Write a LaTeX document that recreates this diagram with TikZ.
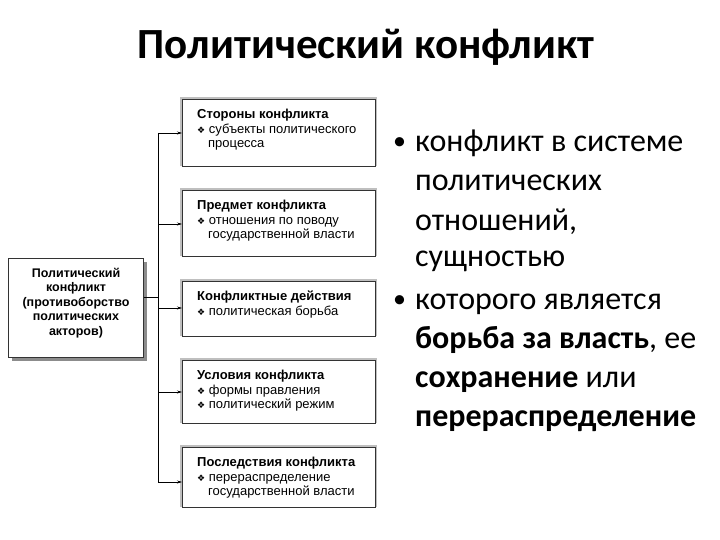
\documentclass[tikz,border=0pt]{standalone}
\usepackage{fontspec}
\setmainfont{Carlito}
\newfontfamily\arl{Liberation Sans}
\newfontfamily\dv{DejaVu Sans}
\usetikzlibrary{arrows.meta}
\begin{document}
\begin{tikzpicture}[x=1pt,y=-1pt,
  rbox/.style={draw=black!80,line width=0.8pt,fill=white,minimum width=193pt,anchor=north west,inner sep=0pt},
  arr/.style={-{Stealth[length=5pt,width=3pt]},line width=0.6pt},
  boxtxt/.style={font=\arl\fontsize{13}{14.5}\selectfont,align=left,anchor=north west,inner sep=0pt}]
\path[use as bounding box] (0,0) rectangle (720,540);
\node[font=\bfseries\fontsize{43}{47}\selectfont] (title) at (366,47) {Политический конфликт};
% left box
\fill[black!45] (12,262) rectangle (147,361);
\node[draw=black!80,line width=0.8pt,fill=white,minimum width=135pt,minimum height=99pt,anchor=north west,inner sep=0pt] (L) at (8,258) {};
\node[font=\arl\bfseries\fontsize{12.5}{14.5}\selectfont,align=center] at (76,303) {Политический\\конфликт\\(противоборство\\политических\\акторов)};
% right boxes
\newcommand\bul{{\dv\fontsize{9}{12}\selectfont ❖}}
\newcommand\rb[5]{%
 \fill[black!25] (180,#2-2) rectangle (377,#3);
 \node[rbox,minimum height=#3pt-#2pt] (#1) at (182,#2) {};
 \node[boxtxt] at (197,#2+10) {#4};
 \coordinate (#1a) at (182,#5);}
\rb{b1}{99}{166}{\textbf{Стороны конфликта}\\\bul\ субъекты политического\\\hspace*{11pt}процесса}{133}
\rb{b2}{190}{256}{\textbf{Предмет конфликта}\\\bul\ отношения по поводу\\\hspace*{11pt}государственной власти}{224}
\rb{b3}{281}{336}{\textbf{Конфликтные действия}\\\bul\ политическая борьба}{308}
\rb{b4}{360}{423}{\textbf{Условия конфликта}\\\bul\ формы правления\\\bul\ политический режим}{392}
\rb{b5}{447}{507}{\textbf{Последствия конфликта}\\\bul\ перераспределение\\\hspace*{11pt}государственной власти}{482}
\coordinate (top) at (158,133);
\coordinate (bot) at (158,482);
\coordinate (mid) at (158,297);
\draw[line width=0.6pt] (top) -- (bot);
\draw[line width=0.6pt] (L.east |- mid) -- (mid);
\foreach \b/\y in {b1/133,b2/224,b3/308,b4/392,b5/482}
  \draw[arr] (158,\y) -- (\b a);
% right text
\begin{scope}[every node/.style={anchor=base west,font=\fontsize{32}{36}\selectfont,inner sep=0pt}]
\node[font=\fontsize{26}{30}\selectfont] at (393,150) {•};
\node at (415,152) {конфликт в системе};
\node at (415,191) {политических};
\node at (415,230) {отношений,};
\node at (415,266) {сущностью};
\node[font=\fontsize{26}{30}\selectfont] at (393,307) {•};
\node at (415,309) {которого является};
\node at (415,348) {\textbf{борьба за власть}, ее};
\node at (415,387) {\textbf{сохранение} или};
\node at (415,426) {\textbf{перераспределение}};
\end{scope}
\end{tikzpicture}
\end{document}
